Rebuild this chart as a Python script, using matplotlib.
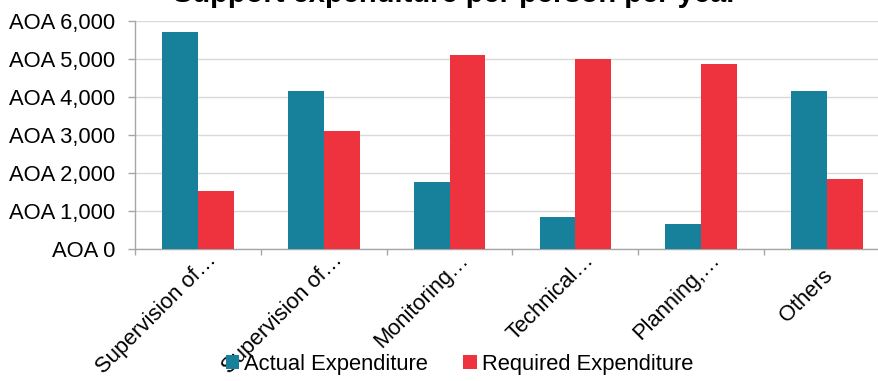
import numpy as np
import matplotlib.pyplot as plt
from matplotlib.ticker import FuncFormatter, FixedLocator
from matplotlib.transforms import ScaledTranslation

plt.rcParams['font.family'] = ['Liberation Sans', 'DejaVu Sans']

categories = ['Supervision of…', 'Supervision of…', 'Monitoring…',
              'Technical…', 'Planning,…', 'Others']
actual = [5710, 4165, 1755, 835, 665, 4165]
required = [1520, 3105, 5095, 4990, 4860, 1840]

teal = '#17809b'
red = '#ee333f'
grey = '#a6a6a6'

fig = plt.figure(figsize=(8.79, 3.81), dpi=100)
ax = fig.add_axes([135 / 879, 132 / 381, 755 / 879, 228 / 381])

x = np.arange(len(categories))
w = 0.285
ax.bar(x - w / 2, actual, w, color=teal, label='Actual Expenditure', zorder=3)
ax.bar(x + w / 2, required, w, color=red, label='Required Expenditure', zorder=3)

ax.set_xlim(-0.5, len(categories) - 0.5)
ax.set_ylim(0, 6000)
ax.set_yticks(np.arange(0, 6001, 1000))
ax.yaxis.set_major_formatter(FuncFormatter(lambda v, p: 'AOA {:,.0f}'.format(v)))
ax.grid(axis='y', color='#d9d9d9', linewidth=1, zorder=0)

# category labels at group centres, tick marks on the group boundaries
ax.set_xticks(x)
ax.set_xticklabels(categories, rotation=45, ha='right', va='top',
                   rotation_mode='anchor')
ax.xaxis.set_minor_locator(FixedLocator(np.arange(-0.5, len(categories), 1.0)))
ax.tick_params(axis='x', which='major', length=0, labelsize=15.8, pad=4)
ax.tick_params(axis='x', which='minor', length=4.5, color=grey, width=1)
ax.tick_params(axis='y', length=5, color=grey, width=1, labelsize=15.8, pad=9.4)

# truncated labels sit a little further up the slope than the short one
for lbl in ax.get_xticklabels():
    if lbl.get_text().endswith('…'):
        dx, dy = 5.8 / 72, 3.6 / 72
    else:
        dx, dy = -3.6 / 72, -7.9 / 72
    lbl.set_transform(lbl.get_transform() + ScaledTranslation(dx, dy, fig.dpi_scale_trans))

for s in ['top', 'right']:
    ax.spines[s].set_visible(False)
for s in ['left', 'bottom']:
    ax.spines[s].set_color(grey)
    ax.spines[s].set_linewidth(1)

fig.text(455 / 879, 1 - 2 / 381, 'Support expenditure per person per year',
         ha='center', va='baseline', fontsize=21, fontweight='bold')

fig.legend(loc='center', bbox_to_anchor=(0.5228, 0.0446), ncol=2, frameon=False,
           fontsize=15.8, handlelength=0.6, handleheight=0.6, handletextpad=0.25,
           columnspacing=1.6, borderpad=0)

fig.savefig('out.png', dpi=100)
